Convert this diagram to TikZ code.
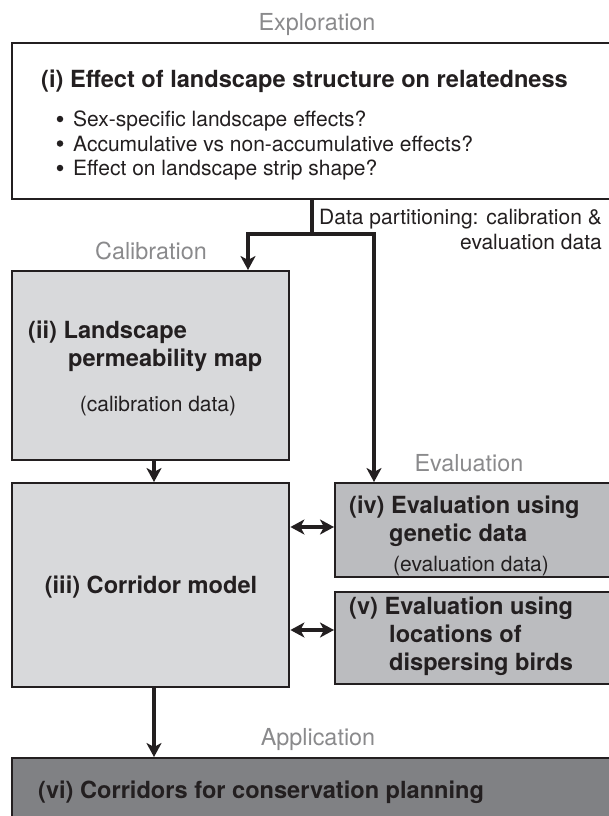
\documentclass[tikz,border=0pt]{standalone}
\usepackage{fontspec}
\setmainfont{TeX Gyre Heros}
\usetikzlibrary{arrows.meta}

\definecolor{inkdark}{HTML}{231F20}
\definecolor{labelgray}{HTML}{8A8A8C}
\definecolor{filllight}{HTML}{D8D9DB}
\definecolor{fillmid}{HTML}{BBBCBF}
\definecolor{filldark}{HTML}{808184}

\tikzset{
  panel/.style={draw=inkdark, line width=2.4pt, inner sep=0pt, anchor=north west},
  phase/.style={text=labelgray, font=\fontsize{23.4}{26}\selectfont, inner sep=0pt, anchor=base},
  headtxt/.style={text=inkdark, font=\fontsize{23.6}{28}\selectfont\bfseries, inner sep=0pt, anchor=base west},
  plaintxt/.style={text=inkdark, font=\fontsize{21}{24}\selectfont, inner sep=0pt, anchor=base west},
  dot/.style={fill=inkdark, circle, inner sep=0pt, minimum size=6.5pt},
  conn/.style={draw=inkdark, line width=3.4pt},
  tip/.tip={Stealth[length=14pt, width=15pt, inset=4pt]},
}

\begin{document}
\begin{tikzpicture}[x=1pt, y=-1pt]
  \useasboundingbox (0,0) rectangle (608,816);

  % phase labels
  \node[phase] (lexp) at (317,31) {Exploration};
  \node[phase] (lcal) at (151,259) {Calibration};
  \node[phase] (leva) at (469,471) {Evaluation};
  \node[phase] (lapp) at (318,745) {Application};

  % panels
  \node[panel, fill=white, minimum width=602pt, minimum height=156pt] (i) at (11,42) {};
  \node[panel, fill=filllight, minimum width=277pt, minimum height=189pt] (ii) at (11,270) {};
  \node[panel, fill=filllight, minimum width=277pt, minimum height=204pt] (iii) at (11,482) {};
  \node[panel, fill=fillmid, minimum width=278pt, minimum height=94pt] (iv) at (334,482) {};
  \node[panel, fill=fillmid, minimum width=278pt, minimum height=92pt] (v) at (334,591) {};
  \node[panel, fill=filldark, minimum width=602pt, minimum height=80pt] (vi) at (11,757) {};

  % panel (i)
  \node[headtxt] (ti) at (41,87) {(i) Effect of landscape structure on relatedness};
  \node[dot] (b1) at (60,119) {};
  \node[plaintxt] (q1) at (73,126.5) {Sex-specific landscape effects?};
  \node[dot] (b2) at (60,143.5) {};
  \node[plaintxt] (q2) at (73,151) {Accumulative vs non-accumulative effects?};
  \node[dot] (b3) at (60,168) {};
  \node[plaintxt] (q3) at (73,175.5) {Effect on landscape strip shape?};

  % partition note
  \node[plaintxt, anchor=base east] (np1) at (602,224) {Data partitioning: calibration \&};
  \node[plaintxt, anchor=base east] (np2) at (602,249) {evaluation data};

  % panel (ii)
  \node[headtxt] (tii1) at (28,338) {(ii) Landscape};
  \node[headtxt] (tii2) at (68,366) {permeability map};
  \node[plaintxt, anchor=base] (tii3) at (158,411) {(calibration data)};

  % panel (iii)
  \node[headtxt, anchor=base] (tiii) at (151,593) {(iii) Corridor model};

  % panel (iv)
  \node[headtxt] (tiv1) at (349,513) {(iv) Evaluation using};
  \node[headtxt] (tiv2) at (389,541) {genetic data};
  \node[plaintxt, anchor=base] (tiv3) at (471,571) {(evaluation data)};

  % panel (v)
  \node[headtxt] (tv1) at (349,614) {(v) Evaluation using};
  \node[headtxt] (tv2) at (389,642) {locations of};
  \node[headtxt] (tv3) at (389,670) {dispersing birds};

  % panel (vi)
  \node[headtxt] (tvi) at (38,798) {(vi) Corridors for conservation planning};

  % connectors
  \coordinate (split) at (312,234);
  \coordinate (tocal) at (248,270);
  \coordinate (toeva) at (374,482);
  \draw[conn] (i.south -| split) -- (split);
  \draw[conn, -tip, line join=miter] (split) -| (tocal);
  \draw[conn, -tip, line join=miter] (split) -| (toeva);
  \draw[conn, -tip] (ii.south -| 154,0) -- (iii.north -| 154,0);
  \draw[conn, -tip] (iii.south -| 154,0) -- (vi.north -| 154,0);
  \draw[conn, tip-tip] (iii.east |- 0,527) -- (iv.west |- 0,527);
  \draw[conn, tip-tip] (iii.east |- 0,630) -- (v.west |- 0,630);
\end{tikzpicture}
\end{document}
